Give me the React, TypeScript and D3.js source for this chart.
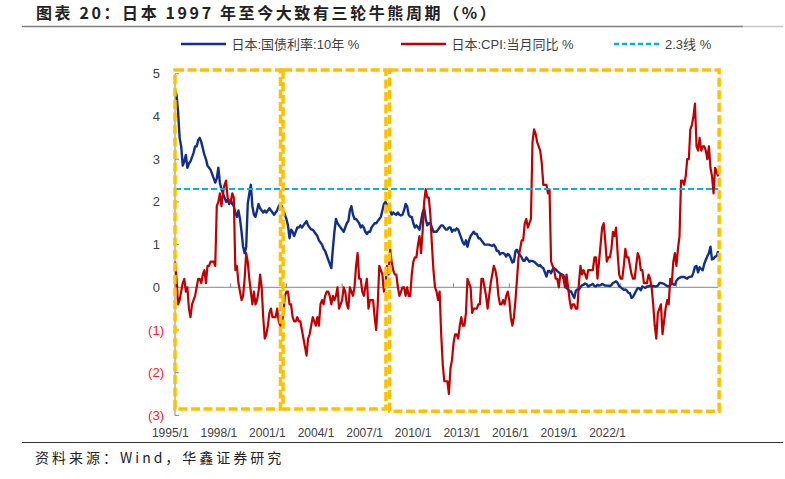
import React from "react";
import * as d3 from "d3";

// ---------------- data ----------------
const START_YEAR = 1995; // first month = 1995/1, monthly through 2024/4

// 日本:国债利率:10年 (%), monthly
const jgb10y: number[] = [
  // 1995
  4.62, 4.5, 4.1, 3.5, 3.3, 2.85, 2.95, 3.1, 2.8, 2.9, 2.95, 3.05,
  // 1996
  3.15, 3.3, 3.3, 3.45, 3.5, 3.4, 3.25, 3.1, 3.0, 2.85, 2.8, 2.75,
  // 1997
  2.65, 2.55, 2.45, 2.55, 2.8, 2.45, 2.3, 2.2, 2.1, 2.0, 2.05, 1.95,
  // 1998
  2.05, 1.95, 1.9, 1.75, 1.65, 1.8, 1.6, 1.3, 0.95, 0.8, 0.95, 1.95,
  // 1999
  2.2, 2.4, 1.9, 1.7, 1.65, 1.8, 1.95, 1.85, 1.8, 1.75, 1.8, 1.75,
  // 2000
  1.8, 1.85, 1.8, 1.75, 1.7, 1.75, 1.8, 1.9, 1.95, 1.9, 1.8, 1.7,
  // 2001
  1.6, 1.45, 1.15, 1.35, 1.3, 1.2, 1.3, 1.4, 1.4, 1.45, 1.4, 1.45,
  // 2002
  1.5, 1.55, 1.45, 1.4, 1.35, 1.35, 1.3, 1.25, 1.2, 1.1, 1.05, 1.0,
  // 2003
  0.9, 0.85, 0.75, 0.65, 0.55, 0.45, 0.9, 1.3, 1.6, 1.5, 1.45, 1.4,
  // 2004
  1.35, 1.3, 1.4, 1.5, 1.55, 1.8, 1.9, 1.7, 1.6, 1.6, 1.55, 1.5,
  // 2005
  1.4, 1.45, 1.4, 1.3, 1.25, 1.3, 1.3, 1.4, 1.45, 1.5, 1.5, 1.55,
  // 2006
  1.6, 1.65, 1.8, 1.95, 2.0, 1.9, 1.95, 1.8, 1.7, 1.75, 1.72, 1.7,
  // 2007
  1.75, 1.7, 1.68, 1.7, 1.8, 1.95, 1.9, 1.7, 1.65, 1.65, 1.5, 1.4,
  // 2008
  1.45, 1.4, 1.35, 1.55, 1.75, 1.85, 1.6, 1.45, 1.5, 1.5, 1.4, 1.3,
  // 2009
  1.3, 1.3, 1.35, 1.4, 1.45, 1.45, 1.4, 1.35, 1.35, 1.4, 1.4, 1.3,
  // 2010
  1.35, 1.33, 1.38, 1.35, 1.25, 1.15, 1.05, 1.0, 1.1, 0.95, 1.1, 1.2,
  // 2011
  1.25, 1.3, 1.25, 1.25, 1.15, 1.15, 1.1, 1.05, 1.0, 1.0, 1.0, 1.0,
  // 2012
  0.98, 0.97, 1.0, 0.95, 0.85, 0.85, 0.77, 0.8, 0.8, 0.78, 0.72, 0.78,
  // 2013
  0.75, 0.68, 0.58, 0.6, 0.85, 0.88, 0.8, 0.75, 0.7, 0.62, 0.62, 0.7,
  // 2014
  0.65, 0.6, 0.62, 0.62, 0.6, 0.57, 0.53, 0.5, 0.52, 0.47, 0.45, 0.35,
  // 2015
  0.25, 0.38, 0.38, 0.33, 0.42, 0.45, 0.42, 0.38, 0.35, 0.32, 0.3, 0.28,
  // 2016
  0.15, -0.02, -0.05, -0.1, -0.1, -0.18, -0.25, -0.08, -0.05, -0.05, 0.0, 0.05,
  // 2017
  0.06, 0.09, 0.07, 0.02, 0.04, 0.06, 0.08, 0.03, 0.02, 0.06, 0.04, 0.05,
  // 2018
  0.08, 0.06, 0.04, 0.04, 0.04, 0.03, 0.05, 0.1, 0.12, 0.14, 0.1, 0.03,
  // 2019
  0.0, -0.03, -0.06, -0.05, -0.08, -0.13, -0.14, -0.25, -0.22, -0.15, -0.08, -0.02,
  // 2020
  -0.02, -0.07, 0.02, 0.0, -0.01, 0.02, 0.02, 0.04, 0.02, 0.03, 0.02, 0.02,
  // 2021
  0.04, 0.1, 0.1, 0.09, 0.08, 0.05, 0.03, 0.02, 0.05, 0.09, 0.07, 0.06,
  // 2022
  0.15, 0.2, 0.22, 0.24, 0.24, 0.24, 0.22, 0.2, 0.24, 0.25, 0.25, 0.35,
  // 2023
  0.48, 0.5, 0.35, 0.47, 0.43, 0.4, 0.55, 0.64, 0.73, 0.8, 0.95, 0.65,
  // 2024
  0.67, 0.72, 0.73, 0.85,
];

// 日本:CPI:当月同比 (%), monthly
const cpiYoY: number[] = [
  // 1995
  0.6, 0.2, -0.4, -0.3, -0.1, 0.1, 0.2, -0.1, 0.0, -0.5, -0.7, -0.4,
  // 1996
  -0.3, -0.2, 0.0, 0.2, 0.2, 0.1, 0.3, 0.4, 0.1, 0.5, 0.5, 0.6,
  // 1997
  0.6, 0.6, 0.5, 1.9, 2.0, 2.2, 1.9, 2.2, 2.4, 2.5, 2.1, 2.0,
  // 1998
  2.0, 2.2, 2.1, 0.4, 0.5, 0.1, -0.1, -0.3, -0.2, 0.2, 0.8, 0.6,
  // 1999
  0.2, -0.1, -0.4, -0.1, -0.4, -0.3, -0.1, 0.3, 0.0, -0.7, -1.2, -1.1,
  // 2000
  -0.9, -0.6, -0.5, -0.7, -0.7, -0.7, -0.5, -0.8, -0.9, -0.9, -0.6, -0.2,
  // 2001
  -0.1, -0.1, -0.4, -0.4, -0.7, -0.8, -0.8, -0.7, -0.8, -0.8, -1.0, -1.2,
  // 2002
  -1.4, -1.6, -1.2, -1.1, -0.9, -0.7, -0.8, -0.9, -0.7, -0.9, -0.4, -0.3,
  // 2003
  -0.4, -0.2, -0.1, -0.1, -0.2, -0.4, -0.2, -0.3, -0.2, 0.0, -0.5, -0.4,
  // 2004
  -0.3, 0.0, -0.1, -0.4, -0.5, 0.0, -0.1, -0.2, 0.0, 0.5, 0.8, 0.2,
  // 2005
  0.2, -0.1, -0.2, 0.0, 0.2, -0.5, -0.3, -0.3, -0.3, -0.7, -1.0, -0.4,
  // 2006
  0.5, 0.4, 0.3, -0.1, 0.1, 0.5, 0.3, 0.9, 0.6, 0.4, 0.3, 0.3,
  // 2007
  0.0, -0.2, -0.1, 0.0, 0.0, -0.2, 0.0, -0.2, -0.2, 0.3, 0.6, 0.7,
  // 2008
  0.7, 1.0, 1.2, 0.8, 1.3, 2.0, 2.3, 2.1, 2.1, 1.7, 1.0, 0.4,
  // 2009
  0.0, -0.1, -0.3, -0.1, -1.1, -1.8, -2.2, -2.2, -2.2, -2.5, -1.9, -1.7,
  // 2010
  -1.3, -1.1, -1.1, -1.2, -0.9, -0.7, -0.9, -0.9, -0.6, 0.2, 0.1, 0.0,
  // 2011
  -0.6, -0.5, -0.5, -0.5, -0.4, -0.4, 0.2, 0.2, 0.0, -0.2, -0.5, -0.2,
  // 2012
  0.1, 0.3, 0.5, 0.4, 0.2, -0.2, -0.4, -0.4, -0.3, -0.4, -0.2, -0.1,
  // 2013
  -0.3, -0.7, -0.9, -0.7, -0.3, 0.2, 0.7, 0.9, 1.1, 1.1, 1.5, 1.6,
  // 2014
  1.4, 1.5, 1.6, 3.4, 3.7, 3.6, 3.4, 3.3, 3.2, 2.9, 2.4, 2.4,
  // 2015
  2.4, 2.2, 2.3, 0.6, 0.5, 0.4, 0.2, 0.2, 0.0, 0.3, 0.3, 0.2,
  // 2016
  0.0, 0.3, 0.0, -0.3, -0.5, -0.4, -0.4, -0.5, -0.5, 0.1, 0.5, 0.3,
  // 2017
  0.4, 0.3, 0.2, 0.4, 0.4, 0.4, 0.4, 0.7, 0.7, 0.2, 0.6, 1.0,
  // 2018
  1.4, 1.5, 1.1, 0.6, 0.7, 0.7, 0.9, 1.3, 1.2, 1.4, 0.8, 0.3,
  // 2019
  0.2, 0.2, 0.5, 0.9, 0.7, 0.7, 0.5, 0.3, 0.2, 0.2, 0.5, 0.8,
  // 2020
  0.7, 0.4, 0.4, 0.1, 0.1, 0.1, 0.3, 0.2, 0.0, -0.4, -0.9, -1.2,
  // 2021
  -0.6, -0.5, -0.4, -1.1, -0.8, -0.5, -0.3, -0.4, 0.2, 0.1, 0.6, 0.8,
  // 2022
  0.5, 0.9, 1.2, 2.5, 2.5, 2.4, 2.6, 3.0, 3.0, 3.7, 3.8, 4.0,
  // 2023
  4.3, 3.3, 3.2, 3.5, 3.2, 3.3, 3.3, 3.2, 3.0, 3.3, 2.8, 2.6,
  // 2024
  2.2, 2.8, 2.7, 2.6,
];

const thresholdValue = 2.3; // 2.3线

const xTickLabels = [
  "1995/1", "1998/1", "2001/1", "2004/1", "2007/1",
  "2010/1", "2013/1", "2016/1", "2019/1", "2022/1",
];
const yTickValues = [5, 4, 3, 2, 1, 0, -1, -2, -3];

// three bull/bear cycles (fractional years, value range)
const cycleStarts = [1995.0, 2000.82, 2006.55];
const cycleEnds = [2000.68, 2006.36, 2024.3];
const cycleTops = [5.09, 5.09, 5.09];
const cycleBottoms = [-2.85, -2.85, -2.9];

const titleText = "图表 20：日本 1997 年至今大致有三轮牛熊周期（%）";
const sourceText = "资料来源：Wind，华鑫证券研究";
const legendLabels = ["日本:国债利率:10年 %", "日本:CPI:当月同比 %", "2.3线 %"];

// ---------------- styles ----------------
const W = 785;
const H = 479;
const BLUE = "#102E8E";
const RED = "#C00000";
const CYAN = "#00B0F0";
const ORANGE = "#FFC000";
const AXIS = "#868686";
const TEXT = "#404040";
const LATIN = "'Liberation Sans', Arial, 'Noto Sans CJK SC', sans-serif";
const CJK = "'Noto Sans CJK SC', 'Liberation Sans', sans-serif";

export default function App() {
  const n = jgb10y.length;
  const x = d3.scaleLinear().domain([0, n - 1]).range([175, 718.2]);
  const xYear = (yr: number) => x((yr - START_YEAR) * 12);
  const y = d3.scaleLinear().domain([-3, 5]).range([415.4, 73.8]);
  const xLabel = d3.scalePoint<string>().domain(xTickLabels).range([170.3, 607.5]);

  const line = d3
    .line<number>()
    .x((_, i) => x(i))
    .y((d) => y(d));

  const tickIdx = d3.range(0, n, 36);

  return (
    <svg
      width={W}
      height={H}
      style={{ position: "absolute", left: 0, top: 0, background: "#fff" }}
    >
      <rect x={0} y={0} width={W} height={H} fill="#fff" />
      {/* title */}
      <text
        x={36}
        y={19}
        fontFamily={CJK}
        fontSize={16}
        fontWeight={700}
        letterSpacing={2.6}
        fill="#222"
      >
        {titleText}
      </text>
      <line x1={22} x2={743} y1={26.5} y2={26.5} stroke="#7f7f7f" strokeWidth={1.5} />
      <line x1={743} x2={783} y1={26.5} y2={26.5} stroke="#c8c8c8" strokeWidth={1.5} />

      {/* legend */}
      <g fontFamily={LATIN} fontSize={13} fill={TEXT}>
        <line x1={181} x2={226} y1={44} y2={44} stroke={BLUE} strokeWidth={2.5} />
        <text x={231.5} y={48.5}>{legendLabels[0]}</text>
        <line x1={401} x2={446} y1={44} y2={44} stroke={RED} strokeWidth={2.5} />
        <text x={451.5} y={48.5}>{legendLabels[1]}</text>
        <line
          x1={614}
          x2={660}
          y1={44}
          y2={44}
          stroke={CYAN}
          strokeWidth={2.5}
          strokeDasharray="5,3"
        />
        <text x={665} y={48.5}>{legendLabels[2]}</text>
      </g>

      {/* y axis */}
      <line x1={175} x2={175} y1={y(5)} y2={y(-3)} stroke={AXIS} strokeWidth={1} />
      {yTickValues.map((v) => (
        <g key={v}>
          <line x1={175} x2={179} y1={y(v)} y2={y(v)} stroke={AXIS} />
          <text
            x={v < 0 ? 164 : 160}
            y={y(v) + 4.5}
            textAnchor="end"
            fontFamily={LATIN}
            fontSize={13}
            fill={v < 0 ? "#FF2020" : TEXT}
          >
            {v < 0 ? `(${-v})` : `${v}`}
          </text>
        </g>
      ))}

      {/* zero line + x ticks */}
      <line x1={x(0)} x2={x(n - 1)} y1={y(0)} y2={y(0)} stroke={AXIS} strokeWidth={1} />
      {tickIdx.map((i) => (
        <line key={i} x1={x(i)} x2={x(i)} y1={y(0)} y2={y(0) - 4} stroke={AXIS} />
      ))}
      {xTickLabels.map((l) => (
        <text
          key={l}
          x={xLabel(l)}
          y={436.5}
          textAnchor="middle"
          fontFamily={LATIN}
          fontSize={12}
          fill={TEXT}
        >
          {l}
        </text>
      ))}

      {/* series */}
      <path d={line(jgb10y) || ""} fill="none" stroke={BLUE} strokeWidth={2.4} strokeLinejoin="round" />
      <path d={line(cpiYoY) || ""} fill="none" stroke={RED} strokeWidth={2.2} strokeLinejoin="round" />
      <line
        x1={x(0)}
        x2={x(n - 1)}
        y1={y(thresholdValue)}
        y2={y(thresholdValue)}
        stroke={CYAN}
        strokeWidth={2}
        strokeDasharray="6,3"
      />

      {/* cycle boxes */}
      {cycleStarts.map((s, k) => (
        <rect
          key={k}
          x={xYear(s)}
          y={y(cycleTops[k])}
          width={xYear(cycleEnds[k]) - xYear(s)}
          height={y(cycleBottoms[k]) - y(cycleTops[k])}
          fill="none"
          stroke={ORANGE}
          strokeWidth={3.5}
          strokeDasharray="9,3.5"
        />
      ))}

      {/* footer */}
      <line x1={22} x2={783} y1={442.5} y2={442.5} stroke="#333" strokeWidth={1.2} />
      <text
        x={35}
        y={463}
        fontFamily={CJK}
        fontSize={14}
        letterSpacing={3}
        fill="#222"
      >
        {sourceText}
      </text>
    </svg>
  );
}
